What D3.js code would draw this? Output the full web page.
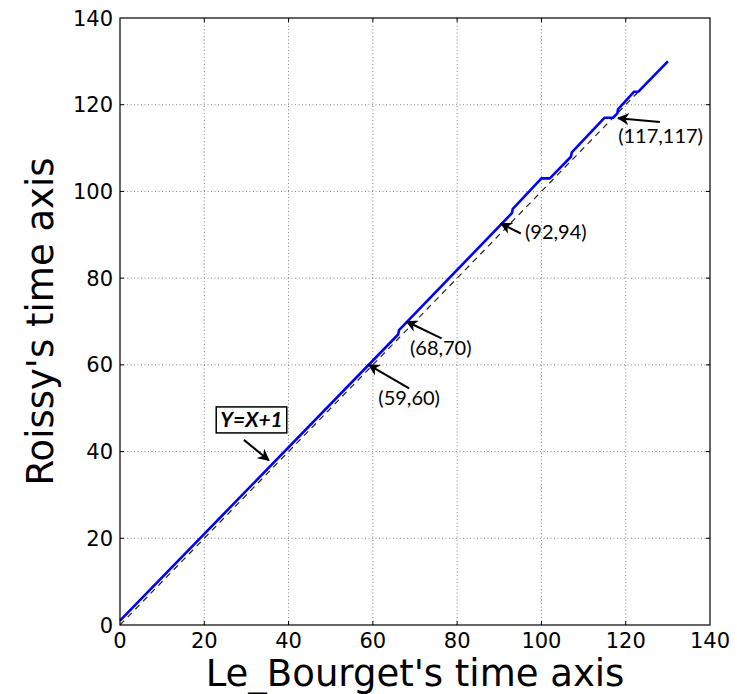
<!DOCTYPE html>
<html>
<head>
<meta charset="utf-8">
<script src="https://cdn.jsdelivr.net/npm/d3@7/dist/d3.min.js"></script>
<style>
    body { margin: 0; background: #fff; }
    svg { display: block; }
    .tick-label { font-family: "DejaVu Sans", sans-serif; font-size: 21px; fill: #000; }
    .axis-title { font-family: "DejaVu Sans", sans-serif; font-size: 37px; fill: #000; }
    .note { font-family: Lato, "Open Sans", sans-serif; font-size: 20px; fill: #000; }
</style>
</head>
<body>
<svg id="chart"></svg>
<script>
(function (d3) {
    'use strict';

    // blue path: Roissy time vs Le_Bourget time
    var blueX = [0, 66, 66.2, 93, 93.2, 100, 102, 107, 107.2, 115, 117, 118, 118.2, 122, 123, 130];
    var blueY = [1, 67, 68, 95, 96, 103, 103, 108, 109, 117, 117, 118, 119, 123, 123, 130];

    // reference line y = x
    var dashX = [0, 130];
    var dashY = [0, 130];

    var ticks = [0, 20, 40, 60, 80, 100, 120, 140];

    // annotations (label, arrow tip, arrow tail, text position) in data units
    var noteLabels = ['(59,60)', '(68,70)', '(92,94)', '(117,117)'];
    var noteTip = [[59, 60], [68, 70], [90.4, 92.6], [118.2, 116.9]];
    var noteTail = [[68.6, 54.6], [76.3, 66.1], [95.1, 90.3], [128.1, 116.0]];
    var noteText = [[61.3, 50.7], [68.8, 62.3], [96.1, 89.0], [118.2, 111.1]];

    var boxLabel = 'Y=X+1';
    var boxTip = [35.3, 38.0];
    var boxTail = [29.4, 42.7];
    var boxCenter = [31.2, 47.3];

    var width = 737,
        height = 694,
        margin = { top: 18, right: 27, bottom: 69, left: 120 };

    var x = d3.scaleLinear().domain([0, 140]).range([margin.left, width - margin.right]),
        y = d3.scaleLinear().domain([0, 140]).range([height - margin.bottom, margin.top]);

    var svg = d3.select('#chart')
        .attr('width', width)
        .attr('height', height);

    svg.append('defs').append('marker')
        .attr('id', 'head')
        .attr('viewBox', '0 0 10 10')
        .attr('refX', 9)
        .attr('refY', 5)
        .attr('markerWidth', 6)
        .attr('markerHeight', 6)
        .attr('markerUnits', 'strokeWidth')
        .attr('orient', 'auto')
        .append('path')
        .attr('d', 'M0,0 L10,5 L0,10 L3,5 Z')
        .attr('fill', '#000');

    var inner = ticks.slice(1, -1);

    // grid
    svg.append('g').selectAll('line')
        .data(inner)
        .enter().append('line')
        .attr('x1', function (d) { return x(d); })
        .attr('x2', function (d) { return x(d); })
        .attr('y1', y(0))
        .attr('y2', y(140))
        .attr('stroke', '#666')
        .attr('stroke-width', 0.8)
        .attr('stroke-dasharray', '1,2.5');

    svg.append('g').selectAll('line')
        .data(inner)
        .enter().append('line')
        .attr('y1', function (d) { return y(d); })
        .attr('y2', function (d) { return y(d); })
        .attr('x1', x(0))
        .attr('x2', x(140))
        .attr('stroke', '#666')
        .attr('stroke-width', 0.8)
        .attr('stroke-dasharray', '1,2.5');

    var line = d3.line()
        .x(function (d) { return x(d[0]); })
        .y(function (d) { return y(d[1]); });

    svg.append('path')
        .datum(d3.zip(dashX, dashY))
        .attr('d', line)
        .attr('fill', 'none')
        .attr('stroke', '#222')
        .attr('stroke-width', 1.2)
        .attr('stroke-dasharray', '6,5');

    svg.append('path')
        .datum(d3.zip(blueX, blueY))
        .attr('d', line)
        .attr('fill', 'none')
        .attr('stroke', '#0000ff')
        .attr('stroke-width', 2.6)
        .attr('stroke-linejoin', 'round');

    // frame
    svg.append('rect')
        .attr('x', x(0))
        .attr('y', y(140))
        .attr('width', x(140) - x(0))
        .attr('height', y(0) - y(140))
        .attr('fill', 'none')
        .attr('stroke', '#000')
        .attr('stroke-width', 1.2);

    // inward ticks on all sides
    var tickG = svg.append('g').attr('stroke', '#000').attr('stroke-width', 1);
    inner.forEach(function (t) {
        tickG.append('line').attr('x1', x(t)).attr('x2', x(t)).attr('y1', y(0)).attr('y2', y(0) - 4);
        tickG.append('line').attr('x1', x(t)).attr('x2', x(t)).attr('y1', y(140)).attr('y2', y(140) + 4);
        tickG.append('line').attr('y1', y(t)).attr('y2', y(t)).attr('x1', x(0)).attr('x2', x(0) + 4);
        tickG.append('line').attr('y1', y(t)).attr('y2', y(t)).attr('x1', x(140)).attr('x2', x(140) - 4);
    });

    svg.append('g').selectAll('text')
        .data(ticks)
        .enter().append('text')
        .attr('class', 'tick-label')
        .attr('x', function (d) { return x(d); })
        .attr('y', y(0) + 23)
        .style('text-anchor', 'middle')
        .text(function (d) { return d; });

    svg.append('g').selectAll('text')
        .data(ticks)
        .enter().append('text')
        .attr('class', 'tick-label')
        .attr('x', x(0) - 7)
        .attr('y', function (d) { return y(d); })
        .attr('dy', '0.36em')
        .style('text-anchor', 'end')
        .text(function (d) { return d; });

    svg.append('text')
        .attr('class', 'axis-title')
        .attr('x', (x(0) + x(140)) / 2)
        .attr('y', 686)
        .style('text-anchor', 'middle')
        .text("Le_Bourget's time axis");

    svg.append('text')
        .attr('class', 'axis-title')
        .attr('transform', 'translate(53,' + (y(0) + y(140)) / 2 + ') rotate(-90)')
        .style('text-anchor', 'middle')
        .text("Roissy's time axis");

    // annotations
    var notes = noteLabels.map(function (l, i) {
        return { label: l, tip: noteTip[i], tail: noteTail[i], pos: noteText[i] };
    });

    svg.append('g').selectAll('line')
        .data(notes.concat([{ tip: boxTip, tail: boxTail }]))
        .enter().append('line')
        .attr('x1', function (d) { return x(d.tail[0]); })
        .attr('y1', function (d) { return y(d.tail[1]); })
        .attr('x2', function (d) { return x(d.tip[0]); })
        .attr('y2', function (d) { return y(d.tip[1]); })
        .attr('stroke', '#000')
        .attr('stroke-width', 2)
        .attr('marker-end', 'url(#head)');

    svg.append('g').selectAll('text')
        .data(notes)
        .enter().append('text')
        .attr('class', 'note')
        .attr('x', function (d) { return x(d.pos[0]); })
        .attr('y', function (d) { return y(d.pos[1]); })
        .text(function (d) { return d.label; });

    var boxG = svg.append('g');
    var boxRect = boxG.append('rect');
    var boxText = boxG.append('text')
        .attr('class', 'note')
        .attr('x', x(boxCenter[0]))
        .attr('y', y(boxCenter[1]))
        .attr('dy', '0.36em')
        .style('text-anchor', 'middle')
        .style('font-weight', 'bold')
        .style('font-style', 'italic')
        .style('font-size', '21px')
        .text(boxLabel);

    var bb = boxText.node().getBBox();
    boxRect
        .attr('x', bb.x - 4)
        .attr('y', y(boxCenter[1]) - 13)
        .attr('width', bb.width + 8)
        .attr('height', 26)
        .attr('fill', '#fff')
        .attr('stroke', '#000')
        .attr('stroke-width', 1.5);

})(window.d3);
</script>
</body>
</html>
